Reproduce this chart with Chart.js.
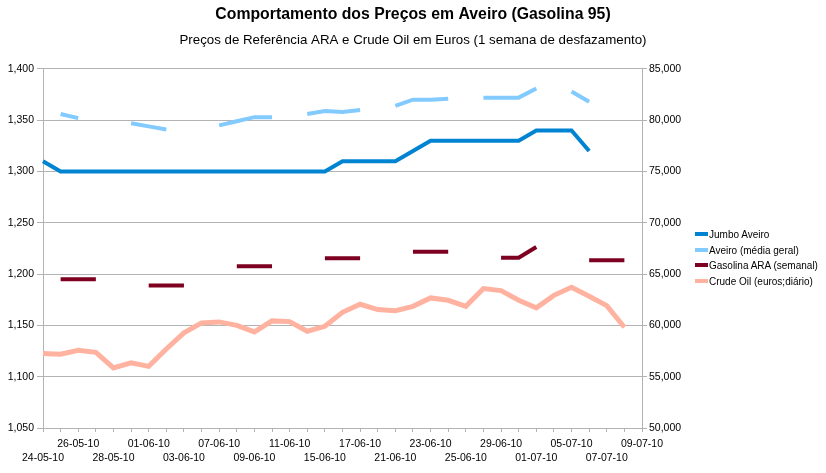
<!DOCTYPE html>
<html>
<head>
<meta charset="utf-8">
<script src="https://cdn.jsdelivr.net/npm/chart.js@4"></script>
<style>
  body { margin: 0; background: #fff; }
  #wrap { position: relative; width: 826px; height: 473px; }
  #legend {
    position: absolute; left: 695px; top: 227px;
    font: 10px 'Liberation Sans', Arial, sans-serif; color: #000;
  }
  #legend div { height: 15.55px; line-height: 15.55px; white-space: nowrap; }
  #legend span.sw {
    display: inline-block; width: 13px; height: 4px;
    vertical-align: middle; margin-right: 1px; position: relative; top: -1px;
  }
</style>
</head>
<body>
<div id="wrap">
  <canvas id="c" width="826" height="473"></canvas>
  <div id="legend"></div>
</div>
<script>
// weekdays 24-05-10 .. 09-07-10
const dates = [
  '24-05-10', '25-05-10', '26-05-10', '27-05-10', '28-05-10',
  '31-05-10', '01-06-10', '02-06-10', '03-06-10', '04-06-10',
  '07-06-10', '08-06-10', '09-06-10', '10-06-10', '11-06-10',
  '14-06-10', '15-06-10', '16-06-10', '17-06-10', '18-06-10',
  '21-06-10', '22-06-10', '23-06-10', '24-06-10', '25-06-10',
  '28-06-10', '29-06-10', '30-06-10', '01-07-10', '02-07-10',
  '05-07-10', '06-07-10', '07-07-10', '08-07-10', '09-07-10',
];

// left axis (euros / litro)
const jumboAveiro = [
  1.310, 1.300, 1.300, 1.300, 1.300, 1.300, 1.300, 1.300, 1.300, 1.300,
  1.300, 1.300, 1.300, 1.300, 1.300, 1.300, 1.300, 1.310, 1.310, 1.310,
  1.310, 1.320, 1.330, 1.330, 1.330, 1.330, 1.330, 1.330, 1.340, 1.340,
  1.340, 1.320, null, null, null,
];
const aveiroMedia = [
  null, 1.356, 1.352, null, null, 1.347, 1.344, 1.341, null, null,
  1.345, 1.349, 1.353, 1.353, null, 1.356, 1.359, 1.358, 1.360, null,
  1.364, 1.370, 1.370, 1.371, null, 1.372, 1.372, 1.372, 1.381, null,
  1.378, 1.368, null, null, null,
];

// right axis (euros)
const gasolinaARA = [
  null, 64500, 64500, 64500, null, null, 63900, 63900, 63900, null,
  null, 65760, 65760, 65760, null, null, 66540, 66540, 66540, null,
  null, 67190, 67190, 67190, null, null, 66600, 66600, 67650, null,
  null, 66350, 66350, 66350, null,
];
const crudeOil = [
  57250, 57190, 57580, 57380, 55860, 56350, 56010, 57700, 59270, 60240,
  60340, 60010, 59370, 60440, 60370, 59430, 59910, 61280, 62060, 61540,
  61440, 61860, 62680, 62450, 61860, 63590, 63390, 62450, 61710, 62930,
  63710, 62840, 61930, 59820, null,
];

const seriesNames = ['Jumbo Aveiro', 'Aveiro (média geral)', 'Gasolina ARA (semanal)', 'Crude Oil (euros;diário)'];
const seriesColors = ['#0084d1', '#83caff', '#7e0021', '#ffb2a0'];

const leftMin = 1.05, leftMax = 1.4, leftStep = 0.05;
const rightMin = 50000, rightMax = 85000, rightStep = 5000;

const GRID = '#b3b3b3';
Chart.defaults.font.family = "'Liberation Sans', Arial, sans-serif";
Chart.defaults.color = '#000';

const fmt3 = (v) => v.toFixed(3).replace('.', ',');

new Chart(document.getElementById('c').getContext('2d'), {
  type: 'line',
  data: {
    labels: dates,
    datasets: [
      { label: seriesNames[0], data: jumboAveiro, borderColor: seriesColors[0], borderWidth: 4, yAxisID: 'y' },
      { label: seriesNames[1], data: aveiroMedia, borderColor: seriesColors[1], borderWidth: 4, yAxisID: 'y' },
      { label: seriesNames[2], data: gasolinaARA, borderColor: seriesColors[2], borderWidth: 4, yAxisID: 'y1' },
      { label: seriesNames[3], data: crudeOil, borderColor: seriesColors[3], borderWidth: 5, yAxisID: 'y1' },
    ].map((d) => ({ ...d, pointRadius: 0, tension: 0, spanGaps: false, fill: false })),
  },
  options: {
    responsive: false,
    animation: false,
    layout: { padding: 0 },
    plugins: {
      legend: { display: false },
      tooltip: { enabled: false },
      title: {
        display: true,
        text: 'Comportamento dos Preços em Aveiro (Gasolina 95)',
        font: { size: 15.8, weight: 'bold' },
        color: '#000',
        padding: { top: 5.5, bottom: 0 },
      },
      subtitle: {
        display: true,
        text: 'Preços de Referência ARA e Crude Oil em Euros (1 semana de desfazamento)',
        font: { size: 13.3 },
        color: '#000',
        padding: { top: 8.2, bottom: 20.3 },
      },
    },
    scales: {
      x: {
        offset: false,
        afterFit: (s) => { s.height = 45; },
        border: { color: GRID },
        grid: { drawOnChartArea: false, drawTicks: true, tickLength: 4, color: GRID },
        ticks: {
          autoSkip: false,
          maxRotation: 0,
          minRotation: 0,
          padding: 5.5,
          font: { size: 10.5, lineHeight: 1.3 },
          callback: (v, i) => {
            if (i % 2) return '';
            return i % 4 === 0 ? ['', dates[i]] : dates[i];
          },
        },
      },
      y: {
        position: 'left',
        min: leftMin,
        max: leftMax,
        afterFit: (s) => { s.width = 43; },
        border: { color: GRID },
        grid: { color: GRID, tickLength: 6 },
        ticks: { stepSize: leftStep, padding: 3, font: { size: 10.5 }, callback: (v) => fmt3(v) },
      },
      y1: {
        position: 'right',
        min: rightMin,
        max: rightMax,
        afterFit: (s) => { s.width = 184; },
        border: { color: GRID },
        grid: { drawOnChartArea: false, color: GRID, tickLength: 5 },
        ticks: { stepSize: rightStep, padding: 2, font: { size: 10.5 }, callback: (v) => fmt3(v / 1000) },
      },
    },
  },
});

// legend, drawn as html next to the plot
const legend = document.getElementById('legend');
seriesNames.forEach((name, i) => {
  const row = document.createElement('div');
  const sw = document.createElement('span');
  sw.className = 'sw';
  sw.style.background = seriesColors[i];
  row.appendChild(sw);
  row.appendChild(document.createTextNode(name));
  legend.appendChild(row);
});
</script>
</body>
</html>
